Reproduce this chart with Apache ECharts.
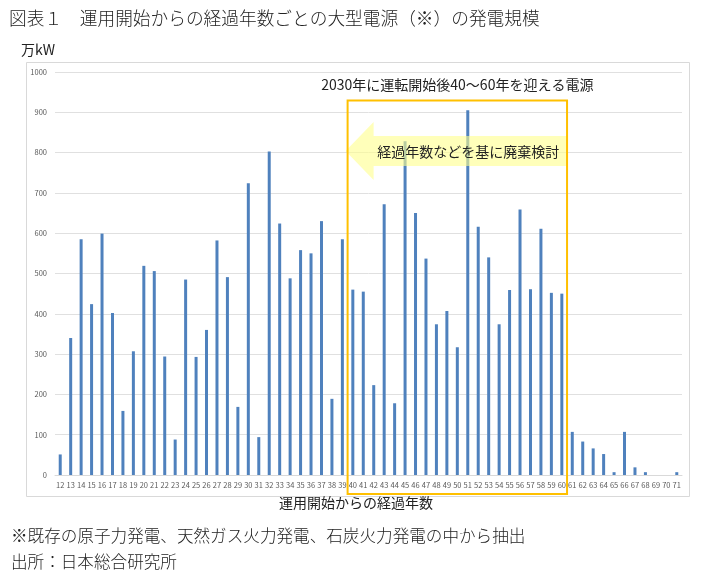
<!DOCTYPE html>
<html><head><meta charset="utf-8">
<script src="https://cdn.jsdelivr.net/npm/echarts@6/dist/echarts.min.js"></script>
<style>html,body{margin:0;padding:0;background:#fff}#c{width:711px;height:577px}</style>
</head><body><div id="c"></div>
<script>
const years = ['12','13','14','15','16','17','18','19','20','21','22','23','24','25','26','27','28','29','30','31','32','33','34','35','36','37','38','39','40','41','42','43','44','45','46','47','48','49','50','51','52','53','54','55','56','57','58','59','60','61','62','63','64','65','66','67','68','69','70','71'];
const capacity = [51,340,585,424,599,402,159,307,519,506,294,88,485,293,360,582,491,169,724,94,803,624,488,558,550,630,189,585,460,455,223,672,178,828,650,537,374,407,317,905,616,540,374,459,659,461,611,452,450,107,83,66,52,7,107,19,7,0,0,7];
const yTicks = {min:0, max:1000, interval:100};
const titleText = '図表１　運用開始からの経過年数ごとの大型電源（※）の発電規模';
const unitText = '万kW';
const xTitle = '運用開始からの経過年数';
const boxText = '2030年に運転開始後40～60年を迎える電源';
const arrowText = '経過年数などを基に廃棄検討';
const note1 = '※既存の原子力発電、天然ガス火力発電、石炭火力発電の中から抽出';
const note2 = '出所：日本総合研究所';
const boxFrom = '40', boxTo = '60';

const FONT = '"Noto Sans CJK JP", "Noto Sans", sans-serif';
const chart = echarts.init(document.getElementById('c'), null, {renderer:'canvas'});
const option = {
  animation:false,
  backgroundColor:'#fff',
  grid:{left:55, right:29, top:72, bottom:102, containLabel:false},
  xAxis:{type:'category', data:years, boundaryGap:true,
    axisLine:{lineStyle:{color:'#d9d9d9'}}, axisTick:{show:false},
    axisLabel:{interval:0, fontSize:7.5, color:'#595959', margin:6, fontFamily:FONT}},
  yAxis:{type:'value', min:yTicks.min, max:yTicks.max, interval:yTicks.interval,
    axisLine:{show:false}, axisTick:{show:false},
    splitLine:{lineStyle:{color:'#e0e0e0'}},
    axisLabel:{fontSize:7.5, color:'#595959', margin:8, fontFamily:FONT, formatter:function(v){return String(v);}}},
  series:[{type:'bar', data:capacity, barWidth:3, itemStyle:{color:'#4F81BD'}}]
};
chart.setOption(option);

const halfBand = (chart.convertToPixel({xAxisIndex:0}, years[1]) - chart.convertToPixel({xAxisIndex:0}, years[0]))/2;
const bx0 = chart.convertToPixel({xAxisIndex:0}, boxFrom) - halfBand;
const bx1 = chart.convertToPixel({xAxisIndex:0}, boxTo) + halfBand;
const by0 = 100.5, by1 = 494;
const ay = 151;
chart.setOption({graphic:[
  {type:'rect', shape:{x:26.5,y:62.5,width:663,height:434}, style:{fill:'none', stroke:'#d9d9d9', lineWidth:1}, z:1},
  {type:'text', left:9, top:9, style:{text:titleText, font:'300 17.7px '+FONT, fill:'#222'}, z:100},
  {type:'text', left:21, top:43, style:{text:unitText, font:'14px '+FONT, fill:'#222'}, z:100},
  {type:'text', x:356, y:503, style:{text:xTitle, font:'14px '+FONT, fill:'#222', align:'center', verticalAlign:'middle'}, z:100},
  {type:'text', left:11, top:527, style:{text:note1, font:'300 16.6px '+FONT, fill:'#222'}, z:100},
  {type:'text', left:11, top:553, style:{text:note2, font:'300 16.6px '+FONT, fill:'#222'}, z:100},
  {type:'polygon', shape:{points:[[bx0-2,ay],[bx0+26,ay-29],[bx0+26,ay-15],[bx1,ay-15],[bx1,ay+15],[bx0+26,ay+15],[bx0+26,ay+29]]},
    style:{fill:'rgba(255,255,140,0.6)'}, z:90},
  {type:'text', x:(bx0+26+bx1)/2-2, y:ay+1, style:{text:arrowText, font:'14px '+FONT, fill:'#222', align:'center', verticalAlign:'middle'}, z:100},
  {type:'rect', shape:{x:bx0, y:by0, width:bx1-bx0, height:by1-by0}, style:{fill:'none', stroke:'#FFC000', lineWidth:2}, z:95},
  {type:'text', x:(bx0+bx1)/2, y:85, style:{text:boxText, font:'14px '+FONT, fill:'#222', align:'center', verticalAlign:'middle'}, z:100}
]});
</script></body></html>
